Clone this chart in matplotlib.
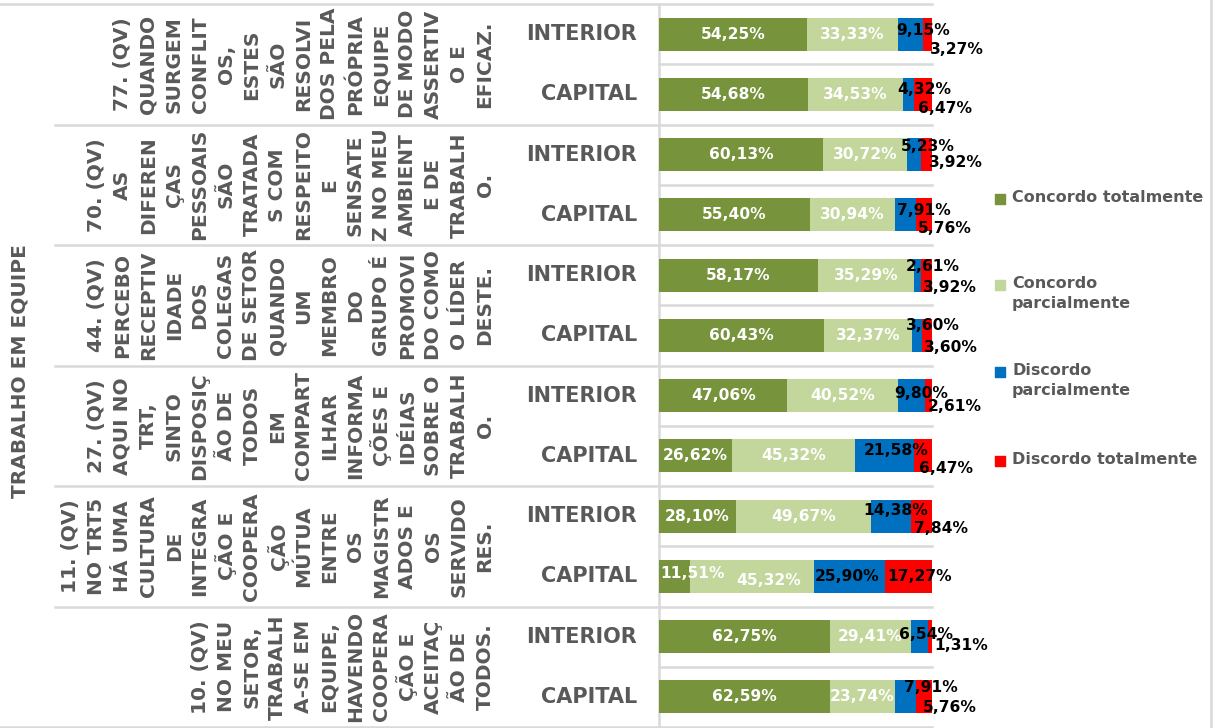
import numpy as np
import matplotlib
matplotlib.use("Agg")
from matplotlib import pyplot as plt

# dados (%), de cima para baixo
locais = ["INTERIOR", "CAPITAL"] * 6
concordo_total = [54.25, 54.68, 60.13, 55.40, 58.17, 60.43, 47.06, 26.62, 28.10, 11.51, 62.75, 62.59]
concordo_parc = [33.33, 34.53, 30.72, 30.94, 35.29, 32.37, 40.52, 45.32, 49.67, 45.32, 29.41, 23.74]
discordo_parc = [9.15, 4.32, 5.23, 7.91, 2.61, 3.60, 9.80, 21.58, 14.38, 25.90, 6.54, 7.91]
discordo_total = [3.27, 6.47, 3.92, 5.76, 3.92, 3.60, 2.61, 6.47, 7.84, 17.27, 1.31, 5.76]

series = ["Concordo totalmente", "Concordo parcialmente", "Discordo parcialmente", "Discordo totalmente"]
legenda = ["Concordo totalmente", "Concordo\nparcialmente", "Discordo\nparcialmente", "Discordo totalmente"]
cores = ["#77933C", "#C3D69B", "#0070C0", "#FF0000"]

categoria = "TRABALHO EM EQUIPE"
perguntas = [
    ["77. (QV)", "QUANDO", "SURGEM", "CONFLIT", "OS,", "ESTES", "SÃO", "RESOLVI", "DOS PELA",
     "PRÓPRIA", "EQUIPE", "DE MODO", "ASSERTIV", "O E", "EFICAZ."],
    ["70. (QV)", "AS", "DIFEREN", "ÇAS", "PESSOAIS", "SÃO", "TRATADA", "S COM", "RESPEITO", "E",
     "SENSATE", "Z NO MEU", "AMBIENT", "E DE", "TRABALH", "O."],
    ["44. (QV)", "PERCEBO", "RECEPTIV", "IDADE", "DOS", "COLEGAS", "DE SETOR", "QUANDO", "UM",
     "MEMBRO", "DO", "GRUPO É", "PROMOVI", "DO COMO", "O LÍDER", "DESTE."],
    ["27. (QV)", "AQUI NO", "TRT,", "SINTO", "DISPOSIÇ", "ÃO DE", "TODOS", "EM", "COMPART", "ILHAR",
     "INFORMA", "ÇÕES E", "IDÉIAS", "SOBRE O", "TRABALH", "O."],
    ["11. (QV)", "NO TRT5", "HÁ UMA", "CULTURA", "DE", "INTEGRA", "ÇÃO E", "COOPERA", "ÇÃO", "MÚTUA",
     "ENTRE", "OS", "MAGISTR", "ADOS E", "OS", "SERVIDO", "RES."],
    ["10. (QV)", "NO MEU", "SETOR,", "TRABALH", "A-SE EM", "EQUIPE,", "HAVENDO", "COOPERA", "ÇÃO E",
     "ACEITAÇ", "ÃO DE", "TODOS."],
]

# deslocamento manual dos rotulos (pixels), como no grafico do Excel
dx_azul = [-2, -5, -6, 2, -8, -6, -4, 8, -8, 1, -12, 9]
dy_azul = [-4, -4.5, -8, -4, -9, -10, -2.5, -5, -6, 0, -2, -9]
dx_verm = [7, 4, 8, 2, 2, 2, 3, 5, 3, 2, 6, 7]
dy_verm = [15, 14, 8, 14, 12, 12, 11, 13, 12, 0, 9, 11]
dx_claro = [0] * 9 + [18, 0, 0]
dy_claro = [0] * 9 + [-3, 0, 0]

W, H = 1217, 728
TOP, BOT = 4, 727
X0, X1 = 659, 932
cinza = "#595959"
linha = "#D9D9D9"
n = len(locais)
passo = (BOT - TOP) / n

def row_px(r):
    return TOP + (r + 0.5) * passo

fig = plt.figure(figsize=(W / 100, H / 100), dpi=100)

# camada de fundo em pixels para textos e linhas
lay = fig.add_axes([0, 0, 1, 1])
lay.set_xlim(0, W)
lay.set_ylim(H, 0)
lay.axis("off")

ax = fig.add_axes([X0 / W, 1 - BOT / H, (X1 - X0) / W, (BOT - TOP) / H])
ax.set_xlim(0, 100)
ax.set_ylim(n - 0.5, -0.5)
ax.axis("off")

y = np.arange(n)
valores = [concordo_total, concordo_parc, discordo_parc, discordo_total]
esq = np.zeros(n)
for k, vals in enumerate(valores):
    vals = np.array(vals)
    ax.barh(y, vals, left=esq, height=0.55, color=cores[k], zorder=3)
    for i in range(n):
        txt = f"{vals[i]:.2f}".replace(".", ",") + "%"
        if k < 2:
            ddx = dx_claro[i] if k == 0 else (16 if i == 9 else 0)
            ddy = dy_claro[i] if k == 0 else (4 if i == 9 else 0)
            ax.annotate(txt, (esq[i] + vals[i] / 2, y[i]), xytext=(ddx, -ddy),
                        textcoords="offset pixels", ha="center", va="center",
                        color="white", fontsize=11.2, fontweight="bold", zorder=5)
        elif k == 2:
            ax.annotate(txt, (esq[i], y[i]), xytext=(dx_azul[i], -dy_azul[i]),
                        textcoords="offset pixels", ha="left", va="center",
                        color="black", fontsize=11.2, fontweight="bold", zorder=6,
                        annotation_clip=False)
        else:
            ax.annotate(txt, (esq[i], y[i]), xytext=(dx_verm[i], -dy_verm[i]),
                        textcoords="offset pixels", ha="left", va="center",
                        color="black", fontsize=11.2, fontweight="bold", zorder=7,
                        annotation_clip=False)
    esq = esq + vals

# linhas de grade
lay.plot([0, X1], [TOP, TOP], color=linha, lw=1.8)
lay.plot([0, X1], [BOT, BOT], color=linha, lw=1.8)
for r in range(1, n):
    yy = TOP + r * passo
    x_ini = 55 if r % 2 == 0 else X0
    lay.plot([x_ini, X1], [yy, yy], color=linha, lw=1.8)
lay.plot([X0, X0], [TOP, BOT], color=linha, lw=1.8)
lay.plot([1211, 1211], [0, H], color=linha, lw=1.8)

# rotulos de local
for i, loc in enumerate(locais):
    lay.text(637, row_px(i), loc, ha="right", va="center", color=cinza,
             fontsize=15, fontweight="bold")

# perguntas (texto rotacionado, uma coluna por linha)
for g, linhas in enumerate(perguntas):
    yc = TOP + (2 * g + 1) * passo
    m = len(linhas)
    for j, t in enumerate(linhas):
        xc = 485 - (m - 1 - j) * 25.9
        lay.text(xc, yc, t, rotation=90, rotation_mode="anchor", ha="center", va="center",
                 color=cinza, fontsize=14.5, fontweight="bold")

lay.text(20, 371, categoria, rotation=90, rotation_mode="anchor", ha="center", va="center",
         color=cinza, fontsize=14.5, fontweight="bold")

# legenda
leg_y = [199, 285, 372, 461]
for k in range(4):
    lay.scatter([1000], [leg_y[k]], marker="s", s=45, color=cores[k], zorder=5)
    lay.text(1012, leg_y[k] - 9, legenda[k], ha="left", va="top", color=cinza,
             fontsize=11.5, fontweight="bold", linespacing=1.45)

fig.savefig("out.png", dpi=100)
